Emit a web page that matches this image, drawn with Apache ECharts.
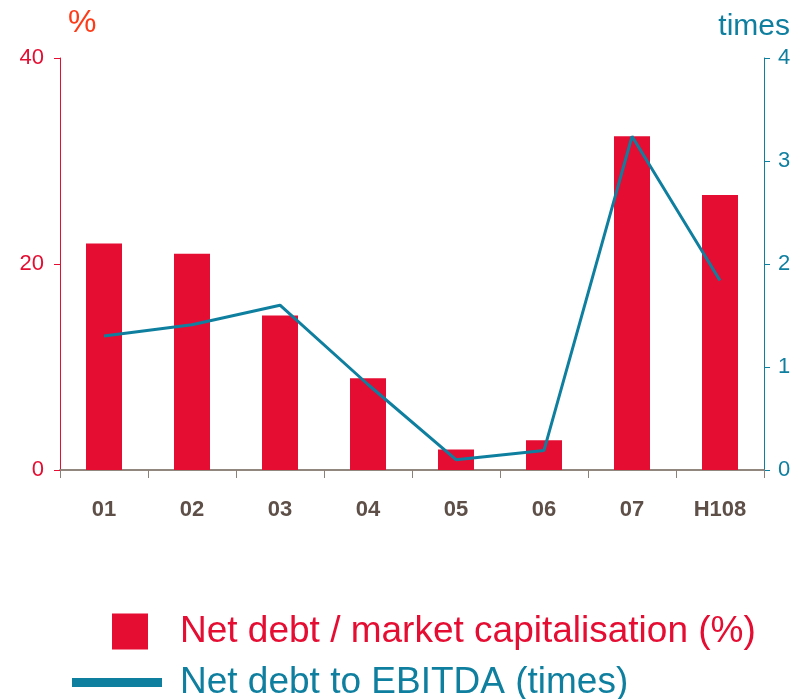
<html>
<head>
    <meta charset="utf-8">
    <title>Net debt</title>
    <script src="https://cdn.jsdelivr.net/npm/echarts@6/dist/echarts.min.js"></script>
</head>
<body style="margin:0">
    <div id="main" style="width: 809px;height:699px;"></div>
    <script type="text/javascript">
        var years = ['01', '02', '03', '04', '05', '06', '07', 'H108'];
        var debtToCap = [22.0, 21.0, 15.0, 8.9, 2.0, 2.9, 32.4, 26.7];
        var debtToEbitda = [1.30, 1.41, 1.60, 0.83, 0.10, 0.19, 3.24, 1.84];

        var RED = '#e50d32';
        var TEAL = '#0f7fa0';
        var sans = "'Liberation Sans', Arial, sans-serif";

        var myChart = echarts.init(document.getElementById('main'));
        var option = {
            animation: false,
            grid: { left: 60, right: 45, top: 58, bottom: 229 },
            legend: [
                {
                    data: ['Net debt / market capitalisation (%)'],
                    left: 107, top: 608,
                    icon: 'rect', itemWidth: 36, itemHeight: 36,
                    textStyle: { color: RED, fontSize: 37, fontFamily: sans, padding: [4, 0, 0, 27] }
                },
                {
                    data: ['Net debt to EBITDA (times)'],
                    left: 67, top: 659,
                    icon: 'rect', itemWidth: 90, itemHeight: 9,
                    textStyle: { color: TEAL, fontSize: 37, fontFamily: sans, padding: [0, 0, 0, 13] }
                }
            ],
            xAxis: [
                {
                    type: 'category',
                    data: years,
                    axisLine: { lineStyle: { color: '#8c8078', width: 1.5 } },
                    axisTick: { show: true, length: 8, lineStyle: { color: '#8c8078' } },
                    axisLabel: { color: '#5e5048', fontSize: 22, fontWeight: 'bold', fontFamily: sans, margin: 29 }
                },
                {
                    type: 'category',
                    data: years,
                    position: 'top',
                    axisLine: { lineStyle: { color: '#8c8078', width: 1.5 } },
                    axisTick: { show: false },
                    axisLabel: { show: false }
                }
            ],
            yAxis: [
                {
                    type: 'value',
                    min: 0, max: 40, interval: 20,
                    name: '%',
                    nameLocation: 'end',
                    nameGap: 19,
                    nameTextStyle: { color: '#ff3a16', fontSize: 32, fontFamily: sans, align: 'left', padding: [0, 0, 0, 8] },
                    axisLine: { show: true, lineStyle: { color: RED } },
                    axisTick: { show: true, length: 6, lineStyle: { color: RED } },
                    splitLine: { show: false },
                    axisLabel: { color: RED, fontSize: 22, fontFamily: sans, margin: 16 }
                },
                {
                    type: 'value',
                    min: 0, max: 4, interval: 1,
                    name: 'times',
                    nameLocation: 'end',
                    nameGap: 16,
                    nameTextStyle: { color: TEAL, fontSize: 30, fontFamily: sans, align: 'right', padding: [0, -26, 0, 0] },
                    axisLine: { show: true, lineStyle: { color: TEAL } },
                    axisTick: { show: true, length: 6, lineStyle: { color: TEAL } },
                    splitLine: { show: false },
                    axisLabel: { color: TEAL, fontSize: 22, fontFamily: sans, margin: 14 }
                }
            ],
            series: [
                {
                    name: 'Net debt / market capitalisation (%)',
                    type: 'bar',
                    data: debtToCap,
                    barWidth: 36,
                    itemStyle: { color: RED }
                },
                {
                    name: 'Net debt to EBITDA (times)',
                    type: 'line',
                    yAxisIndex: 1,
                    data: debtToEbitda,
                    symbol: 'none',
                    lineStyle: { color: TEAL, width: 3 },
                    itemStyle: { color: TEAL }
                }
            ]
        };
        myChart.setOption(option);
    </script>
</body>
</html>
